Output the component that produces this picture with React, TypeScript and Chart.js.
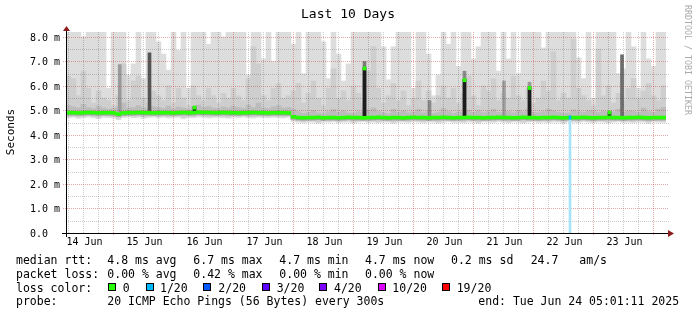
import React, { useEffect, useRef } from 'react';
import { Chart, registerables } from 'chart.js';

Chart.register(...registerables);

const FONT = '"DejaVu Sans Mono", "Liberation Mono", monospace';

const chartTitle = 'Last 10 Days';
const yAxisTitle = 'Seconds';
const sideCredit = 'RRDTOOL / TOBI OETIKER';

// time axis: hours since graph start (Jun 14 05:01:11), 10 days
const spanHours = 240;
const firstMidnightHour = 18.98;
const binHours = 2;
const dayLabels = ['14 Jun', '15 Jun', '16 Jun', '17 Jun', '18 Jun', '19 Jun', '20 Jun', '21 Jun', '22 Jun', '23 Jun'];
const yTickValues = [0, 1, 2, 3, 4, 5, 6, 7, 8];
const yTickLabels = ['0.0', '1.0 m', '2.0 m', '3.0 m', '4.0 m', '5.0 m', '6.0 m', '7.0 m', '8.0 m'];
const yMax = 8.2;

// median rtt per 2-hour bin (ms)
const medianRtt = [
  4.93, 4.93, 4.92, 4.93, 4.94, 4.93, 4.92, 4.93, 4.93, 4.92,
  4.87, 4.92, 4.93, 4.93, 4.94, 4.93, 4.93, 4.92, 4.93, 4.93,
  4.93, 4.92, 4.93, 4.94, 4.93, 4.93, 4.95, 4.94, 4.94, 4.93,
  4.93, 4.94, 4.93, 4.93, 4.92, 4.93, 4.93, 4.94, 4.93, 4.93,
  4.92, 4.93, 4.93, 4.93, 4.92, 4.76, 4.73, 4.72, 4.73, 4.73,
  4.74, 4.72, 4.73, 4.73, 4.72, 4.73, 4.74, 4.73, 4.73, 4.72,
  4.73, 4.73, 4.74, 4.73, 4.72, 4.73, 4.73, 4.72, 4.73, 4.74,
  4.73, 4.73, 4.72, 4.73, 4.73, 4.74, 4.73, 4.72, 4.73, 4.73,
  4.74, 4.73, 4.73, 4.72, 4.73, 4.73, 4.74, 4.73, 4.73, 4.72,
  4.73, 4.74, 4.73, 4.73, 4.72, 4.73, 4.73, 4.74, 4.73, 4.72,
  4.73, 4.73, 4.73, 4.74, 4.73, 4.72, 4.73, 4.73, 4.74, 4.73,
  4.73, 4.72, 4.73, 4.73, 4.74, 4.73, 4.72, 4.73, 4.73, 4.73,
];

// lowest ping per bin (ms)
const smokeFloor = [
  4.70, 4.72, 4.68, 4.71, 4.73, 4.70, 4.66, 4.72, 4.71, 4.69,
  4.62, 4.71, 4.73, 4.70, 4.72, 4.68, 4.71, 4.73, 4.70, 4.72,
  4.69, 4.71, 4.72, 4.66, 4.71, 4.70, 4.73, 4.72, 4.69, 4.71,
  4.72, 4.70, 4.68, 4.72, 4.71, 4.73, 4.70, 4.69, 4.72, 4.71,
  4.70, 4.72, 4.71, 4.69, 4.72, 4.55, 4.52, 4.50, 4.53, 4.52,
  4.48, 4.53, 4.52, 4.54, 4.50, 4.52, 4.53, 4.49, 4.52, 4.54,
  4.51, 4.52, 4.50, 4.53, 4.52, 4.48, 4.53, 4.52, 4.51, 4.54,
  4.52, 4.50, 4.53, 4.52, 4.49, 4.52, 4.54, 4.51, 4.52, 4.50,
  4.53, 4.52, 4.48, 4.53, 4.52, 4.51, 4.54, 4.52, 4.50, 4.53,
  4.52, 4.49, 4.52, 4.54, 4.51, 4.52, 4.50, 4.53, 4.52, 4.48,
  4.53, 4.52, 4.51, 4.54, 4.52, 4.50, 4.53, 4.52, 4.49, 4.52,
  4.54, 4.51, 4.52, 4.50, 4.53, 4.52, 4.48, 4.53, 4.52, 4.51,
];

// highest ping per bin (ms); values above 8.2 run off the top
const smokeMax = [
  8.5, 8.5, 8.5, 8.0, 8.5, 8.5, 8.5, 8.5, 5.9, 8.5,
  8.5, 8.5, 6.45, 6.9, 8.5, 6.3, 8.5, 8.5, 7.8, 7.3,
  6.65, 8.5, 7.45, 8.5, 5.9, 8.5, 8.5, 8.5, 7.7, 8.5,
  8.5, 8.0, 8.5, 8.5, 8.5, 8.5, 6.45, 8.5, 8.5, 7.1,
  8.5, 7.0, 8.5, 8.5, 8.5, 7.7, 8.5, 6.5, 8.5, 8.5,
  8.5, 7.8, 6.3, 8.5, 7.3, 6.2, 6.9, 8.5, 8.5, 8.5,
  8.5, 8.5, 8.5, 7.6, 6.25, 7.6, 8.5, 8.5, 8.5, 5.9,
  8.5, 8.5, 7.3, 5.6, 6.45, 8.5, 7.7, 8.5, 6.8, 8.5,
  8.5, 7.1, 7.6, 8.5, 8.5, 8.5, 6.6, 8.5, 7.1, 8.5,
  6.5, 8.5, 8.5, 8.5, 8.5, 7.55, 8.5, 8.5, 8.5, 8.5,
  8.5, 8.5, 7.15, 6.3, 8.5, 5.5, 8.5, 8.5, 8.5, 8.5,
  6.5, 6.7, 8.5, 7.6, 5.9, 8.5, 7.1, 6.8, 8.5, 8.5,
];

// upper part of the smoke per bin (ms)
const smokeMid = [
  6.4, 6.3, 5.6, 6.6, 5.9, 5.3, 5.8, 5.5, 5.4, 5.2,
  5.6, 6.9, 5.4, 6.2, 6.4, 5.5, 5.3, 5.8, 5.6, 5.4,
  6.0, 5.3, 5.9, 5.5, 5.2, 6.0, 5.6, 5.4, 5.9, 5.6,
  5.3, 5.7, 5.5, 5.9, 5.6, 5.4, 6.3, 7.6, 6.9, 5.6,
  5.4, 5.9, 6.1, 5.5, 5.6, 5.8, 6.1, 5.3, 5.7, 6.2,
  5.5, 5.2, 5.9, 6.7, 5.5, 5.8, 5.4, 6.0, 5.7, 5.3,
  6.6, 7.6, 5.9, 5.3, 5.6, 6.1, 5.4, 5.8, 5.2, 5.5,
  6.2, 5.4, 5.8, 5.3, 5.6, 6.0, 5.5, 5.9, 5.3, 5.7,
  6.4, 5.6, 5.2, 6.0, 5.8, 6.3, 5.4, 5.7, 5.5, 6.4,
  5.6, 5.4, 5.9, 5.3, 5.5, 6.2, 5.8, 7.4, 5.4, 5.7,
  5.5, 7.9, 5.9, 5.6, 5.4, 5.2, 7.5, 5.6, 6.0, 5.3,
  5.7, 5.4, 5.9, 6.3, 5.5, 5.8, 6.1, 5.6, 5.4, 6.0,
];

// dense core of the smoke per bin (ms)
const smokeInner = [
  5.20, 5.15, 5.10, 5.25, 5.12, 5.08, 5.18, 5.10, 5.05, 5.08,
  5.15, 5.30, 5.10, 5.12, 5.20, 5.10, 5.06, 5.15, 5.12, 5.08,
  5.18, 5.06, 5.14, 5.10, 5.05, 5.15, 5.22, 5.12, 5.16, 5.10,
  5.08, 5.14, 5.10, 5.18, 5.12, 5.08, 5.22, 5.12, 5.30, 5.10,
  5.08, 5.15, 5.20, 5.10, 5.12, 5.05, 4.95, 4.88, 4.92, 5.00,
  4.90, 4.86, 4.95, 5.05, 4.92, 4.98, 4.90, 4.88, 4.95, 4.92,
  5.02, 5.10, 4.95, 4.90, 4.86, 5.05, 4.92, 4.98, 4.90, 4.94,
  5.05, 4.90, 4.96, 4.88, 4.92, 5.08, 4.95, 4.88, 4.94, 4.90,
  5.00, 4.92, 4.98, 4.90, 4.95, 5.05, 4.92, 4.88, 4.96, 4.90,
  5.00, 4.94, 5.06, 4.92, 4.90, 4.95, 5.05, 4.98, 4.92, 4.88,
  4.90, 5.02, 4.95, 4.92, 4.98, 5.00, 4.92, 4.96, 4.90, 4.94,
  5.05, 4.92, 4.98, 4.96, 4.92, 5.10, 4.95, 4.92, 5.05, 5.12,
];

// narrow dark streaks (hour, base, top)
const streakHours = [21.5, 33.4, 119.4, 145.4, 159.4, 175.2, 185.4, 222.4];
const streakBase = [4.93, 4.93, 4.73, 4.73, 4.73, 4.73, 4.73, 4.73];
const streakTop = [6.87, 7.35, 7.0, 5.4, 6.6, 6.2, 6.15, 7.27];
const streakShades = ['#9a9a9a', '#555555', '#7a7a7a', '#8a8a8a', '#8a8a8a', '#a0a0a0', '#999999', '#6e6e6e'];

// short median spikes (hour, base, median)
const spikeHours = [51.4, 119.4, 159.4, 185.4, 217.4];
const spikeBase = [4.93, 4.73, 4.73, 4.73, 4.73];
const spikeMedian = [5.15, 6.75, 6.27, 5.95, 4.95];

// single loss event (1/20)
const lossHours = [201.6];
const lossMedian = [4.73];

const statsMedian = ['median rtt:', '4.8 ms avg', '6.7 ms max', '4.7 ms min', '4.7 ms now', '0.2 ms sd', '24.7', 'am/s'];
const statsLoss = ['packet loss:', '0.00 % avg', '0.42 % max', '0.00 % min', '0.00 % now'];
const lossColorLabels = ['0', '1/20', '2/20', '3/20', '4/20', '10/20', '19/20'];
const lossColors = ['#26ff00', '#00b8ff', '#0059ff', '#5e00ff', '#7e00ff', '#dd00ff', '#ff0000'];
const probeText = ['probe:', '20 ICMP Echo Pings (56 Bytes) every 300s', 'end: Tue Jun 24 05:01:11 2025'];

const GREEN = '#26ff00';

export default function App() {
  const ref = useRef<HTMLCanvasElement>(null);

  useEffect(() => {
    document.body.style.margin = '0';
    const canvas = ref.current;
    if (!canvas) return;

    const xs = medianRtt.map((_, i) => i * binHours + binHours / 2);
    const midLow = smokeFloor.map((v) => v + 0.06);
    const innerLow = medianRtt.map((v) => v - 0.12);
    const darkLow = medianRtt.map((v) => v - 0.12);
    const darkHigh = medianRtt.map((v) => v - 0.06);
    const medLow = medianRtt.map((v) => v - 0.08);
    const medHigh = medianRtt.map((v) => v + 0.04);

    const binLayer = (label: string, color: string, lo: number[], hi: number[]) => ({
      label,
      data: xs.map((x, i) => ({ x, y: [lo[i], hi[i]] })),
      backgroundColor: color,
      borderWidth: 0,
      barThickness: 5,
      grouped: false,
      clip: 0,
    });
    const pointLayer = (label: string, color: any, hrs: number[], lo: number[], hi: number[], thick: number) => ({
      label,
      data: hrs.map((x, i) => ({ x, y: [lo[i], hi[i]] })),
      backgroundColor: color,
      borderWidth: 0,
      barThickness: thick,
      grouped: false,
      clip: 0,
    });

    const layers: any[] = [
      binLayer('smoke-light', '#dddddd', smokeFloor, smokeMax),
      binLayer('smoke-mid', '#cecece', midLow, smokeMid),
      binLayer('smoke-inner', '#bcbcbc', innerLow, smokeInner),
      pointLayer('streaks', streakShades, streakHours, streakBase, streakTop, 3),
      binLayer('smoke-dark', '#a4a4a4', darkLow, darkHigh),
      pointLayer('loss-bar', '#a6e3f7', lossHours, lossHours.map(() => 0), lossMedian.map((v) => v - 0.08), 2),
      pointLayer('spike-bar', '#1c1c1c', spikeHours, spikeBase, spikeMedian, 3),
      binLayer('median', GREEN, medLow, medHigh),
      pointLayer('spike-median', GREEN, spikeHours, spikeMedian.map((v) => v - 0.1), spikeMedian.map((v) => v + 0.03), 3),
      pointLayer('loss-median', '#00b8ff', lossHours, lossMedian.map((v) => v - 0.09), lossMedian.map((v) => v + 0.05), 2),
    ];
    const n = layers.length;
    layers.forEach((d, i) => (d.order = n - i));

    const dotsH = (ctx: CanvasRenderingContext2D, x0: number, x1: number, y: number) => {
      for (let x = x0; x <= x1; x += 2) ctx.fillRect(x, y, 1, 1);
    };
    const dotsV = (ctx: CanvasRenderingContext2D, x: number, y0: number, y1: number) => {
      for (let y = y0; y <= y1; y += 2) ctx.fillRect(x, y, 1, 1);
    };

    const MAJOR = 'rgba(200,50,50,0.42)';
    const MINOR = 'rgba(0,0,0,0.2)';

    const decor = {
      id: 'rrdDecor',
      beforeDraw(chart: any) {
        const ctx = chart.ctx;
        ctx.save();
        ctx.fillStyle = '#ffffff';
        ctx.fillRect(0, 0, chart.width, chart.height);
        ctx.restore();
      },
      afterDatasetDraw(chart: any, args: any) {
        if (chart.data.datasets[args.index].label !== 'smoke-dark') return;
        const ctx = chart.ctx;
        const xs_ = chart.scales.x;
        const ys_ = chart.scales.y;
        const area = chart.chartArea;
        ctx.save();
        for (let k = 1; k <= 16; k += 2) {
          const y = Math.round(ys_.getPixelForValue(k * 0.5));
          ctx.fillStyle = MINOR;
          dotsH(ctx, Math.round(area.left), 668, y);
        }
        for (let h = firstMidnightHour - 18; h < spanHours; h += 6) {
          const r = (h - firstMidnightHour) / 24;
          const isMajor = Math.abs(r - Math.round(r)) < 1e-6;
          if (isMajor || h <= 0) continue;
          const x = Math.round(xs_.getPixelForValue(h));
          ctx.fillStyle = MINOR;
          dotsV(ctx, x, Math.round(area.top), Math.round(area.bottom) - 1);
        }
        for (const v of yTickValues) {
          if (v === 0) continue;
          const y = Math.round(ys_.getPixelForValue(v));
          ctx.fillStyle = MAJOR;
          dotsH(ctx, 63, 668, y);
        }
        for (let h = firstMidnightHour; h < spanHours; h += 24) {
          const x = Math.round(xs_.getPixelForValue(h));
          ctx.fillStyle = MAJOR;
          dotsV(ctx, x, Math.round(area.top), Math.round(area.bottom) + 2);
        }
        ctx.restore();
      },
      afterDraw(chart: any) {
        const ctx = chart.ctx;
        const xs_ = chart.scales.x;
        const ys_ = chart.scales.y;
        const area = chart.chartArea;
        ctx.save();
        ctx.fillStyle = '#000000';
        const axisY = Math.round(area.bottom);
        ctx.fillRect(62, axisY, 607, 1);
        const axisX = Math.round(area.left);
        ctx.fillRect(axisX, 31, 1, axisY - 31 + 4);
        ctx.fillStyle = '#8b1c1c';
        ctx.beginPath();
        ctx.moveTo(668, axisY - 3);
        ctx.lineTo(674, axisY + 0.5);
        ctx.lineTo(668, axisY + 4);
        ctx.closePath();
        ctx.fill();
        ctx.beginPath();
        ctx.moveTo(axisX - 3, 31);
        ctx.lineTo(axisX + 0.5, 26);
        ctx.lineTo(axisX + 4, 31);
        ctx.closePath();
        ctx.fill();

        ctx.fillStyle = '#000000';
        ctx.font = `13px ${FONT}`;
        ctx.textAlign = 'center';
        ctx.textBaseline = 'alphabetic';
        ctx.fillText(chartTitle, 348, 18);

        ctx.font = `10px ${FONT}`;
        ctx.textAlign = 'left';
        yTickValues.forEach((v, i) => {
          const y = Math.round(ys_.getPixelForValue(v));
          ctx.fillText(yTickLabels[i], 30, y + 3.5);
        });
        ctx.textAlign = 'center';
        dayLabels.forEach((lab, k) => {
          const h = firstMidnightHour - 12 + 24 * k;
          const x = xs_.getPixelForValue(h);
          ctx.fillText(lab, x + 1, 245);
        });

        ctx.save();
        ctx.font = `11px ${FONT}`;
        ctx.translate(14, 132);
        ctx.rotate(-Math.PI / 2);
        ctx.textAlign = 'center';
        ctx.fillText(yAxisTitle, 0, 0);
        ctx.restore();

        ctx.save();
        ctx.fillStyle = '#aaaaaa';
        ctx.font = `8.3px ${FONT}`;
        ctx.translate(684.5, 60);
        ctx.rotate(Math.PI / 2);
        ctx.textAlign = 'center';
        ctx.fillText(sideCredit, 0, 0);
        ctx.restore();

        ctx.fillStyle = '#000000';
        ctx.font = `11.5px ${FONT}`;
        ctx.textAlign = 'left';
        const medX = [16, 107.3, 193.3, 279.3, 365, 451, 530.7, 579.3];
        statsMedian.forEach((s, i) => ctx.fillText(s, medX[i], 264));
        statsLoss.forEach((s, i) => ctx.fillText(s, medX[i], 278));
        ctx.fillText('loss color:', 16, 291.5);
        const boxX = [108, 146, 203, 262, 319, 378, 442];
        const labX = [122.7, 160, 218.3, 276.7, 334, 392.3, 456.7];
        lossColorLabels.forEach((lab, i) => {
          ctx.fillStyle = lossColors[i];
          ctx.fillRect(boxX[i], 283, 8, 8);
          ctx.strokeStyle = '#000000';
          ctx.lineWidth = 1;
          ctx.strokeRect(boxX[i] + 0.5, 283.5, 7, 7);
          ctx.fillStyle = '#000000';
          ctx.fillText(lab, labX[i], 291.5);
        });
        const probeX = [16, 107.3, 478.3];
        probeText.forEach((s, i) => ctx.fillText(s, probeX[i], 305));
        ctx.restore();
      },
    };

    const chart = new Chart(canvas, {
      type: 'bar',
      data: { datasets: layers },
      options: {
        responsive: false,
        animation: false,
        devicePixelRatio: 1,
        events: [],
        layout: { padding: { left: 66, right: 31, top: 32, bottom: 82 } },
        plugins: { legend: { display: false }, tooltip: { enabled: false }, title: { display: false } },
        scales: {
          x: { type: 'linear', min: 0, max: spanHours, offset: false, display: false },
          y: { type: 'linear', min: 0, max: yMax, display: false },
        },
      },
      plugins: [decor],
    } as any);

    return () => chart.destroy();
  }, []);

  return (
    <div style={{ position: 'fixed', left: 0, top: 0, width: 697, height: 315, background: '#ffffff' }}>
      <canvas ref={ref} width={697} height={315} style={{ display: 'block', width: 697, height: 315 }} />
    </div>
  );
}
